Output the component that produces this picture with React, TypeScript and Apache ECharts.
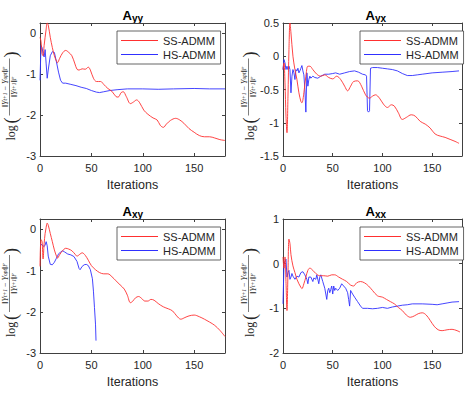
import React, { useEffect, useRef } from "react";
import * as echarts from "echarts";

// ---------- data (iteration, log relative error) ----------
const seriesNames = ["SS-ADMM", "HS-ADMM"];
const xTicks = [0, 50, 100, 150];

const ayySS: [number, number][] = [
  [0, -0.1], [1, -0.2], [2, -0.5], [3, -0.55], [4, -0.3], [6, 0.1], [7, 0.25], [8, 0.2], [10, -0.1], [12, -0.35],
  [14, -0.55], [16, -0.68], [17, -0.72], [19, -0.62], [22, -0.48], [25, -0.42], [28, -0.47], [31, -0.55], [34, -0.75],
  [36, -0.88], [38, -0.9], [41, -0.87], [44, -0.88], [47, -0.83], [49, -0.9], [52, -1.1], [55, -1.18], [59, -1.18],
  [62, -1.25], [66, -1.35], [70, -1.42], [74, -1.55], [76, -1.56], [79, -1.45], [81, -1.43], [84, -1.55], [88, -1.72],
  [91, -1.68], [94, -1.63], [97, -1.7], [101, -1.88], [105, -1.98], [110, -2.07], [114, -2.12], [117, -2.25],
  [120, -2.3], [123, -2.22], [127, -2.13], [132, -2.08], [136, -2.12], [140, -2.2], [145, -2.33], [150, -2.42],
  [155, -2.5], [160, -2.53], [165, -2.53], [170, -2.56], [175, -2.6], [180, -2.62],
];
const ayyHS: [number, number][] = [
  [0, -1.15], [1, -0.3], [2, -0.35], [3, -0.5], [4, -0.58], [5, -0.4], [6, -0.75], [7, -1.1], [8, -0.9], [10, -0.55],
  [12, -0.45], [14, -0.47], [16, -0.7], [18, -0.95], [20, -1.15], [22, -1.22], [25, -1.22], [30, -1.25], [35, -1.28],
  [40, -1.32], [45, -1.35], [50, -1.4], [55, -1.44], [58, -1.45], [62, -1.43], [68, -1.4], [75, -1.38], [85, -1.36],
  [100, -1.36], [115, -1.37], [130, -1.36], [150, -1.35], [165, -1.36], [180, -1.36],
];

const ayxSS: [number, number][] = [
  [0, -0.2], [1, -0.1], [2, -0.4], [3, -0.9], [4, -1.15], [5, -0.6], [6, 0.1], [7, 0.5], [8, 0.35], [10, 0.0],
  [12, -0.2], [14, -0.35], [16, -0.55], [18, -0.68], [19, -0.7], [21, -0.55], [23, -0.3], [25, -0.15], [27, -0.15],
  [30, -0.2], [34, -0.27], [38, -0.3], [42, -0.28], [46, -0.32], [50, -0.34], [54, -0.3], [58, -0.35], [62, -0.45],
  [65, -0.52], [68, -0.45], [71, -0.38], [75, -0.37], [79, -0.45], [83, -0.58], [87, -0.63], [90, -0.6], [93, -0.58],
  [97, -0.63], [101, -0.72], [105, -0.77], [109, -0.73], [112, -0.75], [116, -0.85], [120, -0.95], [124, -0.92],
  [129, -0.88], [133, -0.9], [138, -0.98], [143, -1.02], [148, -1.08], [153, -1.17], [158, -1.2], [163, -1.22],
  [168, -1.25], [173, -1.28], [177, -1.31],
];
const ayxHS: [number, number][] = [
  [0, -0.2], [1, -0.05], [2, -0.1], [3, -0.2], [4, -0.15], [5, -0.2], [6, -0.15], [7, -0.2], [8, -0.55], [9, -0.3],
  [10, -0.2], [11, -0.25], [12, -0.35], [13, -0.2], [14, -0.22], [15, -0.18], [16, -0.25], [17, -0.22], [18, -0.18],
  [19, -0.14], [20, -0.22], [21, -0.28], [22, -0.5], [23, -0.84], [24, -0.25], [25, -0.45], [26, -0.35], [27, -0.3],
  [28, -0.33], [30, -0.3], [32, -0.32], [35, -0.33], [38, -0.3], [42, -0.27], [46, -0.27], [50, -0.26], [53, -0.25],
  [57, -0.27], [62, -0.25], [67, -0.23], [72, -0.22], [76, -0.24], [80, -0.27], [83, -0.28], [84, -0.3], [85, -0.82],
  [86, -0.84], [87, -0.82], [88, -0.18], [90, -0.17], [95, -0.17], [100, -0.18], [105, -0.19], [110, -0.2],
  [115, -0.22], [120, -0.26], [125, -0.29], [130, -0.29], [135, -0.28], [140, -0.27], [150, -0.25], [160, -0.24],
  [170, -0.23], [177, -0.22],
];

const axySS: [number, number][] = [
  [0, -0.9], [1, -0.25], [2, -0.3], [3, -0.72], [4, -0.35], [5, -0.1], [6, 0.05], [7, 0.15], [8, 0.1], [10, -0.1],
  [12, -0.3], [14, -0.5], [16, -0.65], [17, -0.7], [19, -0.62], [22, -0.52], [25, -0.46], [28, -0.48], [31, -0.52],
  [34, -0.6], [36, -0.65], [39, -0.6], [41, -0.57], [44, -0.63], [47, -0.75], [50, -0.88], [54, -0.98], [58, -1.05],
  [62, -1.08], [66, -1.08], [70, -1.15], [74, -1.25], [78, -1.35], [82, -1.45], [85, -1.6], [88, -1.78], [90, -1.75],
  [93, -1.66], [96, -1.63], [99, -1.68], [102, -1.74], [105, -1.74], [108, -1.7], [111, -1.72], [115, -1.8],
  [120, -1.88], [125, -1.93], [129, -1.98], [133, -2.1], [137, -2.18], [141, -2.14], [145, -2.1], [150, -2.08],
  [155, -2.12], [160, -2.18], [165, -2.25], [170, -2.33], [175, -2.45], [180, -2.6],
];
const axyHS: [number, number][] = [
  [0, -0.35], [2, -0.38], [4, -0.42], [5, -0.38], [6, -0.3], [7, -0.4], [8, -0.65], [10, -0.85], [12, -0.86],
  [14, -0.8], [16, -0.7], [18, -0.6], [20, -0.55], [22, -0.52], [24, -0.55], [27, -0.6], [30, -0.62], [33, -0.66],
  [36, -0.78], [38, -0.95], [39, -0.98], [41, -0.9], [43, -0.86], [45, -0.85], [47, -0.88], [49, -0.98], [51, -1.2],
  [52, -1.5], [53, -1.9], [54, -2.3], [54.5, -2.7],
];

const axxSS: [number, number][] = [
  [0, 0.15], [1, -0.1], [2, 0.15], [3, -0.4], [4, -1.05], [5, -0.2], [6, 0.55], [7, 0.45], [8, 0.2], [10, -0.05],
  [12, -0.2], [14, -0.35], [16, -0.45], [18, -0.53], [19, -0.56], [21, -0.45], [23, -0.3], [25, -0.15], [27, -0.1],
  [30, -0.15], [33, -0.22], [37, -0.27], [41, -0.27], [45, -0.28], [49, -0.25], [52, -0.25], [56, -0.3], [60, -0.35],
  [64, -0.4], [68, -0.48], [71, -0.5], [74, -0.43], [78, -0.4], [82, -0.43], [86, -0.5], [90, -0.6], [95, -0.72],
  [100, -0.75], [104, -0.8], [108, -0.85], [112, -0.9], [116, -0.98], [120, -1.05], [124, -1.15], [128, -1.2],
  [132, -1.17], [136, -1.12], [140, -1.1], [144, -1.15], [148, -1.27], [152, -1.4], [156, -1.48], [160, -1.5],
  [165, -1.48], [170, -1.47], [175, -1.5], [178, -1.53],
];
const axxHS: [number, number][] = [
  [0, -0.9], [1, 0.0], [2, 0.05], [3, 0.1], [4, -0.3], [5, -0.2], [6, -0.15], [7, -0.35], [8, -0.3], [9, -0.22],
  [10, -0.28], [12, -0.35], [14, -0.28], [16, -0.3], [18, -0.2], [20, -0.18], [22, -0.25], [24, -0.35], [25, -0.45],
  [26, -0.3], [28, -0.3], [30, -0.4], [31, -0.32], [33, -0.35], [34, -0.25], [36, -0.45], [37, -0.3], [38, -0.25],
  [40, -0.4], [42, -0.55], [44, -0.8], [45, -0.6], [46, -0.55], [47, -0.65], [48, -0.58], [49, -0.5], [50, -0.68],
  [51, -0.5], [52, -0.6], [53, -0.55], [55, -0.6], [57, -0.55], [59, -0.45], [61, -0.5], [63, -0.55], [65, -0.65],
  [66, -0.8], [67, -0.95], [68, -0.6], [70, -0.68], [72, -0.75], [75, -0.85], [78, -0.95], [80, -1.0], [85, -1.0],
  [90, -1.01], [95, -1.0], [100, -0.98], [105, -1.0], [110, -0.97], [115, -0.95], [120, -0.93], [125, -0.92],
  [130, -0.9], [140, -0.9], [150, -0.91], [155, -0.92], [160, -0.9], [165, -0.88], [170, -0.86], [177, -0.85],
];

const titleSubs = ["yy", "yx", "xy", "xx"];
const yMins = [-3, -1.5, -3, -2];
const yMaxs = [0.25, 0.5, 0.25, 1];
const yIntervals = [1, 0.5, 1, 1];
const ssData = [ayySS, ayxSS, axySS, axxSS];
const hsData = [ayyHS, ayxHS, axyHS, axxHS];

// ---------- layout ----------
const PW = 185;
const lefts = [40, 283, 40, 283];
const tops = [23, 23, 219, 219];
const heights = [133, 133, 134, 134];
const TXT = "#262626";
const AX = "#404040";
const RED = "#ff3030";
const BLUE = "#3030ff";
const FONT = "'Liberation Sans', Arial, sans-serif";
const SERIF = "'Liberation Serif', 'DejaVu Serif', serif";

function isTick(v: number, step: number) {
  const r = v / step;
  return Math.abs(r - Math.round(r)) < 1e-6;
}

function yLabel(cx: number, cy: number) {
  const barY = -1.5;
  const rich = {
    i: { fontStyle: "italic", fontSize: 8, fontFamily: SERIF, fill: TXT },
    s: { fontSize: 5.5, fontFamily: SERIF, fill: TXT, fontStyle: "italic" },
  };
  return {
    type: "group",
    x: cx,
    y: cy + 51,
    rotation: Math.PI / 2,
    silent: true,
    children: [
      { type: "text", x: 0, y: 0, style: { text: "log", font: `12px ${SERIF}`, fill: TXT, align: "left", verticalAlign: "middle" } },
      { type: "text", x: 17, y: -0.5, style: { text: "(", font: `18px ${SERIF}`, fill: TXT, align: "left", verticalAlign: "middle" } },
      { type: "line", shape: { x1: 25, y1: barY, x2: 82, y2: barY }, style: { stroke: TXT, lineWidth: 0.6 } },
      {
        type: "text", x: 53.5, y: barY - 0.3,
        style: {
          text: "‖{i|Y}{s|t+1} − {i|Y}{s|opt}‖{s|F}",
          font: `8px ${SERIF}`, fill: TXT, align: "center", verticalAlign: "bottom", rich,
        },
      },
      {
        type: "text", x: 53.5, y: barY + 0.6,
        style: {
          text: "‖{i|Y}{s|t+1}‖{s|F}",
          font: `8px ${SERIF}`, fill: TXT, align: "center", verticalAlign: "top", rich,
        },
      },
      { type: "text", x: 83, y: -0.5, style: { text: ")", font: `18px ${SERIF}`, fill: TXT, align: "left", verticalAlign: "middle" } },
    ],
  };
}

function titleGraphic(cx: number, top: number, sub: string) {
  const base = top - 3.7;
  return {
    type: "group",
    silent: true,
    children: [
      { type: "text", x: cx - 10, y: base + 2.6, style: { text: "A", font: `bold 13px ${FONT}`, fill: "#000", align: "left", verticalAlign: "bottom" } },
      { type: "text", x: cx - 0.6, y: base + 3.8, style: { text: sub, font: `bold 10px ${FONT}`, fill: "#000", align: "left", verticalAlign: "bottom" } },
    ],
  };
}

export default function App() {
  const ref = useRef<HTMLDivElement>(null);

  useEffect(() => {
    if (!ref.current) return;
    document.body.style.margin = "0";
    const chart = echarts.init(ref.current, undefined, { renderer: "svg" });

    const grid: any[] = [];
    const xAxis: any[] = [];
    const yAxis: any[] = [];
    const series: any[] = [];
    const legend: any[] = [];
    const graphic: any[] = [];

    for (let i = 0; i < 4; i++) {
      const left = lefts[i];
      const top = tops[i];
      const h = heights[i];
      grid.push({ left, top, width: PW, height: h, show: false });

      const axisCommon = {
        gridIndex: i,
        type: "value",
        axisLine: { show: true, onZero: false, lineStyle: { color: AX, width: 1 } },
        axisTick: { show: true, inside: true, length: 3, lineStyle: { color: AX, width: 1 } },
        splitLine: { show: false },
      };
      xAxis.push({
        ...axisCommon,
        position: "bottom",
        min: 0, max: 180, interval: 50,
        axisLabel: {
          show: true, margin: 6, color: TXT, fontSize: 11, fontFamily: FONT,
          formatter: (v: number) => (xTicks.indexOf(v) >= 0 ? String(v) : ""),
        },
        name: "Iterations",
        nameLocation: "middle",
        nameGap: 22,
        nameTextStyle: { color: TXT, fontSize: 12.5, fontFamily: FONT },
      });
      xAxis.push({
        ...axisCommon,
        position: "top",
        min: 0, max: 180, interval: 50,
        axisLabel: { show: false },
      });
      const step = yIntervals[i];
      yAxis.push({
        ...axisCommon,
        position: "left",
        min: yMins[i], max: yMaxs[i], interval: step,
        axisLabel: {
          show: true, margin: 4, color: TXT, fontSize: 11, fontFamily: FONT,
          formatter: (v: number) => (isTick(v, step) ? String(Math.round(v * 100) / 100) : ""),
        },
      });
      yAxis.push({
        ...axisCommon,
        position: "right",
        min: yMins[i], max: yMaxs[i], interval: step,
        axisLabel: { show: false },
      });

      series.push({
        type: "line",
        name: seriesNames[0],
        xAxisIndex: 2 * i,
        yAxisIndex: 2 * i,
        data: ssData[i],
        symbol: "none",
        smooth: 0.35,
        lineStyle: { color: RED, width: 0.9 },
        itemStyle: { color: RED },
        z: 3,
      });
      series.push({
        type: "line",
        name: seriesNames[1],
        xAxisIndex: 2 * i,
        yAxisIndex: 2 * i,
        data: hsData[i],
        symbol: "none",
        smooth: false,
        lineStyle: { color: BLUE, width: 0.9 },
        itemStyle: { color: BLUE },
        z: 2,
      });

      legend.push({
        data: seriesNames,
        left: left + PW - 108,
        top: top + 8,
        orient: "vertical",
        icon: "rect",
        itemWidth: 37,
        itemHeight: 1.2,
        itemGap: 1,
        padding: [3, 5, 3, 4],
        backgroundColor: "#fff",
        borderColor: AX,
        borderWidth: 0.8,
        borderRadius: 0,
        selectedMode: false,
        textStyle: { color: TXT, fontSize: 11, fontFamily: FONT, lineHeight: 13 },
        z: 10,
      });

      const cx = left + PW / 2;
      graphic.push(titleGraphic(cx, top, titleSubs[i]));
      const off = i % 2 === 0 ? 29 : 33;
      graphic.push(yLabel(left - off, top + h / 2));
    }

    chart.setOption({
      animation: false,
      backgroundColor: "#fff",
      grid,
      xAxis,
      yAxis,
      series,
      legend,
      graphic,
    });

    return () => {
      chart.dispose();
    };
  }, []);

  return (
    <div
      ref={ref}
      style={{ position: "fixed", left: 0, top: 0, width: 465, height: 393 }}
    />
  );
}
